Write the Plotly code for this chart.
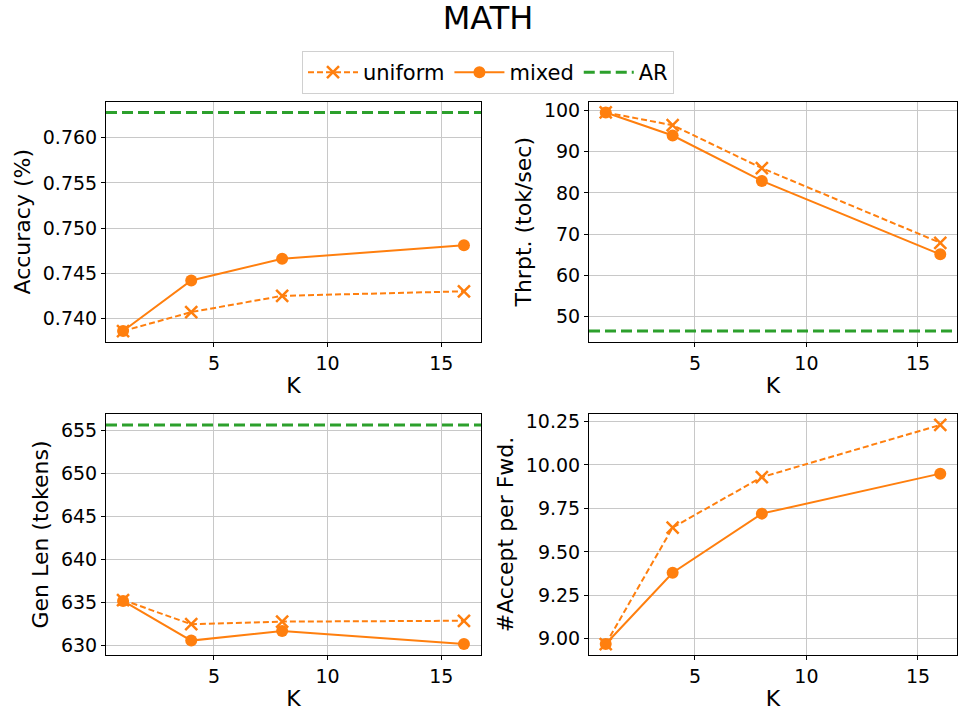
import plotly.graph_objects as go
from plotly.subplots import make_subplots

# ---------------- data ----------------
K = [1, 4, 8, 16]

acc_uniform = [0.7386, 0.7407, 0.7425, 0.7430]
acc_mixed = [0.7386, 0.7442, 0.7466, 0.7481]
acc_ar = 0.7628

thr_uniform = [99.5, 96.4, 86.0, 67.9]
thr_mixed = [99.5, 93.9, 82.9, 65.1]
thr_ar = 46.5

len_uniform = [635.3, 632.5, 632.8, 632.9]
len_mixed = [635.2, 630.6, 631.7, 630.2]
len_ar = 655.6

fwd_uniform = [8.97, 9.64, 9.93, 10.23]
fwd_mixed = [8.97, 9.38, 9.72, 9.95]
fwd_ar = None

y_titles = ["Accuracy (%)", "Thrpt. (tok/sec)", "Gen Len (tokens)", "#Accept per Fwd."]
y_dticks = [0.005, 10, 5, 0.25]
y_formats = [".3f", "d", "d", ".2f"]
x_ticks = [5, 10, 15]

ORANGE = "#ff7f0e"
GREEN = "#2ca02c"
FONT = "DejaVu Sans"


def pad_range(vals, frac=0.05):
    lo, hi = min(vals), max(vals)
    m = (hi - lo) * frac
    return [lo - m, hi + m]


panels = [
    (acc_uniform, acc_mixed, acc_ar),
    (thr_uniform, thr_mixed, thr_ar),
    (len_uniform, len_mixed, len_ar),
    (fwd_uniform, fwd_mixed, fwd_ar),
]

fig = make_subplots(rows=2, cols=2)

xr = pad_range(K)
legend_shown = {"uniform": False, "mixed": False, "AR": False}

for i, (u, mx, ar) in enumerate(panels):
    r, c = i // 2 + 1, i % 2 + 1
    fig.add_trace(go.Scatter(
        x=K, y=u, name="uniform", mode="lines+markers",
        line=dict(color=ORANGE, width=2, dash="6px,3px"),
        marker=dict(symbol="x-thin", size=12, color=ORANGE,
                    line=dict(width=2.5, color=ORANGE)),
        legendgroup="uniform", showlegend=not legend_shown["uniform"],
    ), row=r, col=c)
    legend_shown["uniform"] = True
    fig.add_trace(go.Scatter(
        x=K, y=mx, name="mixed", mode="lines+markers",
        line=dict(color=ORANGE, width=2),
        marker=dict(symbol="circle", size=12, color=ORANGE),
        legendgroup="mixed", showlegend=not legend_shown["mixed"],
    ), row=r, col=c)
    legend_shown["mixed"] = True
    allv = u + mx
    if ar is not None:
        fig.add_trace(go.Scatter(
            x=xr, y=[ar, ar], name="AR", mode="lines",
            line=dict(color=GREEN, width=3, dash="11px,5px"),
            legendgroup="AR", showlegend=not legend_shown["AR"],
        ), row=r, col=c)
        legend_shown["AR"] = True
        allv = allv + [ar]
    yr = pad_range(allv)
    fig.update_yaxes(range=yr, dtick=y_dticks[i], tickformat=y_formats[i],
                     title=dict(text=y_titles[i], font=dict(size=22, family=FONT, color="black"),
                                standoff=6),
                     row=r, col=c)
    fig.update_xaxes(range=xr, tickvals=x_ticks,
                     title=dict(text="K", font=dict(size=22, family=FONT, color="black"),
                                standoff=4),
                     row=r, col=c)

axis_common = dict(
    showgrid=True, gridcolor="#c8c8c8", gridwidth=1,
    showline=True, linecolor="black", linewidth=1, mirror=True,
    ticks="outside", ticklen=4, tickcolor="black", tickwidth=1,
    zeroline=False, tickfont=dict(size=19, family=FONT, color="black"),
    automargin=False,
)
fig.update_xaxes(**axis_common)
fig.update_yaxes(**axis_common)

W, H = 958, 715
xl = [106 / W, 481 / W]
xrd = [589 / W, 957 / W]
yt = [1 - 342 / H, 1 - 101.5 / H]
yb = [1 - 655 / H, 1 - 414 / H]

fig.update_layout(
    width=W, height=H,
    margin=dict(l=0, r=0, t=0, b=0, autoexpand=False),
    paper_bgcolor="white", plot_bgcolor="white",
    font=dict(family=FONT, color="black"),
    xaxis=dict(domain=xl), yaxis=dict(domain=yt),
    xaxis2=dict(domain=xrd), yaxis2=dict(domain=yt),
    xaxis3=dict(domain=xl), yaxis3=dict(domain=yb),
    xaxis4=dict(domain=xrd), yaxis4=dict(domain=yb),
    title=dict(text="MATH", x=488 / W, xanchor="center", y=1 - 18 / H, yanchor="middle",
               font=dict(size=32, family=FONT, color="black")),
    legend=dict(orientation="h", x=488 / W, xanchor="center", y=1 - 51 / H, yanchor="top",
                font=dict(size=21, family=FONT, color="black"),
                bordercolor="#d0d0d0", borderwidth=1, bgcolor="white",
                itemwidth=50, traceorder="normal"),
)

fig.write_html("out.html", config={"displayModeBar": False},
               post_script="document.body.style.margin='0';")
